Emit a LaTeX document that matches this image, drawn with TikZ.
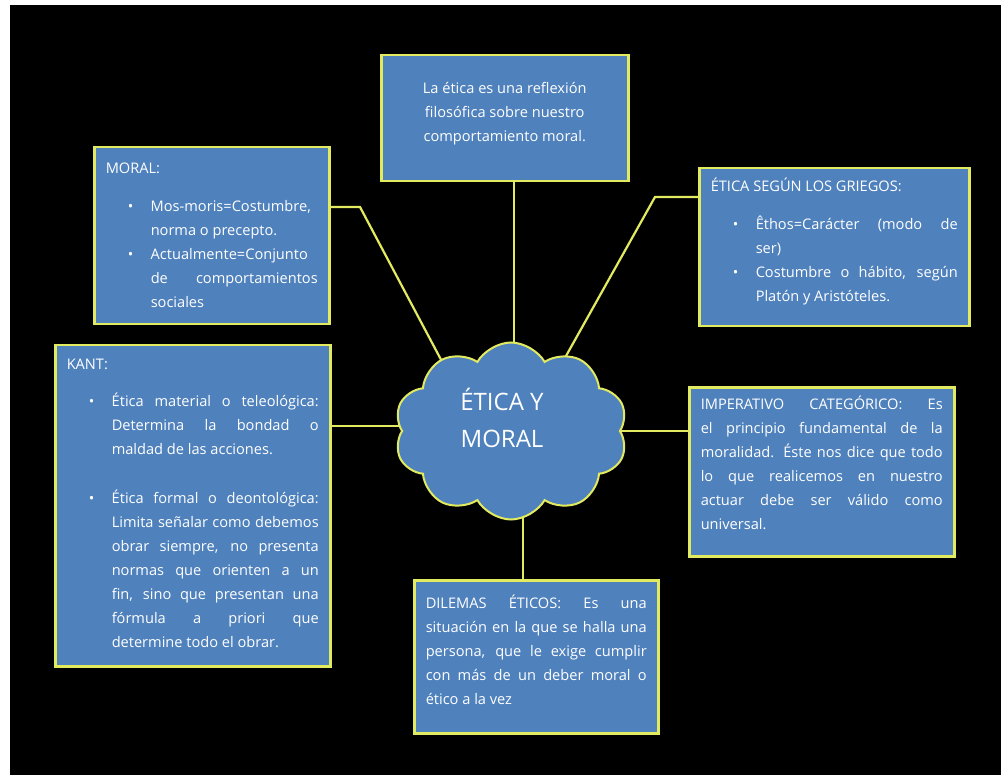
\documentclass[tikz,border=0pt]{standalone}
\usepackage{fontspec}
\setmainfont{Open Sans}
\usetikzlibrary{shapes.symbols}
\definecolor{fondoazul}{RGB}{79,129,189}
\definecolor{bordeamarillo}{RGB}{226,234,96}
\newcommand{\cajatexto}[4]{\parbox[c][#2][t]{#1}{\vspace*{#3}\fontsize{14.6}{24}\selectfont\tolerance=10000\hbadness=10000 #4}}
\newcommand{\vineta}{\par\hangindent=45pt\hangafter=1\noindent\hspace*{22pt}\makebox[23pt][l]{\textbullet}}

\begin{document}
\begin{tikzpicture}[x=1pt, y=-1pt,
  caja/.style={draw=bordeamarillo, line width=2.5pt, fill=fondoazul, text=white, anchor=north west, inner xsep=11.5pt, inner ysep=0pt},
  conector/.style={draw=bordeamarillo, line width=2.2pt},
  titulo/.style={text=white, align=center, font=\fontsize{24}{37}\selectfont}]
  \useasboundingbox (0,0) rectangle (1001,775);
  \fill[white] (0,0) rectangle (1001,775);
  \fill[black] (10,5) rectangle (1001,775);
  \node[caja] (reflexion) at (380,54) {\cajatexto{224pt}{126pt}{21pt}{\centering\strut La ética es una reflexión\\ filosófica sobre nuestro\\ comportamiento moral.\par}};
  \node[caja] (moral) at (93,146) {\cajatexto{212pt}{177pt}{9pt}{\strut MORAL:\par\vspace{14pt}
    \vineta Mos-moris=Costumbre,\linebreak norma o precepto.
    \vineta Actualmente=Conjunto\linebreak de comportamientos\linebreak sociales}};
  \node[caja] (griegos) at (698,167) {\cajatexto{247pt}{158pt}{6pt}{\strut ÉTICA SEGÚN LOS GRIEGOS:\par\vspace{14pt}
    \vineta Êthos=Carácter (modo de\linebreak ser)
    \vineta Costumbre o hábito, según\linebreak Platón y Aristóteles.}};
  \node[caja] (kant) at (54,344) {\cajatexto{252pt}{321pt}{7pt}{\strut KANT:\par\vspace{13pt}
    \vineta Ética material o teleológica:\linebreak Determina la bondad o\linebreak maldad de las acciones.\par\vspace{25pt}
    \vineta Ética formal o deontológica:\linebreak Limita señalar como debemos\linebreak obrar siempre, no presenta\linebreak normas que orienten a un\linebreak fin, sino que presentan una\linebreak fórmula a priori que\linebreak determine todo el obrar.}};
  \node[caja] (imperativo) at (688,386) {\cajatexto{242pt}{169pt}{5pt}{\strut IMPERATIVO CATEGÓRICO: Es\linebreak el principio fundamental de la\linebreak moralidad. Éste nos dice que todo\linebreak lo que realicemos en nuestro\linebreak actuar debe ser válido como\linebreak universal.}};
  \node[caja] (dilemas) at (413,579) {\cajatexto{221pt}{153pt}{11pt}{\strut DILEMAS ÉTICOS: Es una\linebreak situación en la que se halla una\linebreak persona, que le exige cumplir\linebreak con más de un deber moral o\linebreak ético a la vez}};
  \coordinate (codoM) at (360,207);
  \coordinate (finM) at (447,371);
  \coordinate (codoG) at (655,197);
  \coordinate (finG) at (566,356);
  \coordinate (finR) at (514,365);
  \coordinate (finK) at (410,426);
  \coordinate (finI) at (615,431);
  \coordinate (finD) at (523,505);
  \draw[conector] (finR |- reflexion.south) -- (finR);
  \draw[conector] (moral.east |- codoM) -- (codoM) -- (finM);
  \draw[conector] (griegos.west |- codoG) -- (codoG) -- (finG);
  \draw[conector] (kant.east |- finK) -- (finK);
  \draw[conector] (finI) -- (imperativo.west |- finI);
  \draw[conector] (finD) -- (finD |- dilemas.north);
  \node[cloud, cloud puffs=10, cloud puff arc=120, aspect=1.3, draw=bordeamarillo, fill=fondoazul, line width=2pt, minimum width=233pt, minimum height=177pt, inner sep=0pt] (nube) at (511,431) {};
  \node[titulo] (tema) at (502,418) {ÉTICA Y\\MORAL};
\end{tikzpicture}
\end{document}
